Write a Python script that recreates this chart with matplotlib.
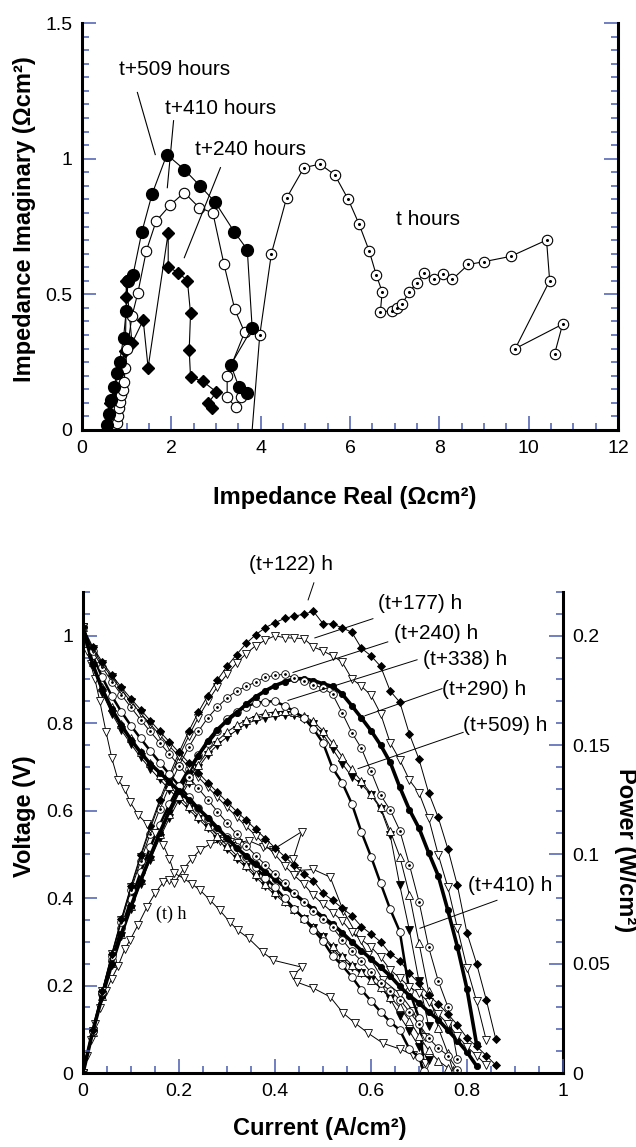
import matplotlib
matplotlib.use("Agg")
import matplotlib.pyplot as plt
from matplotlib.ticker import MultipleLocator, FuncFormatter
from matplotlib import font_manager

# ---- impedance spectra (top panel) ----
real_t = [3.78, 3.98, 4.24, 4.58, 4.97, 5.33, 5.66, 5.96, 6.2, 6.43, 6.59, 6.72, 6.68, 6.94, 7.06,
          7.17, 7.33, 7.49, 7.66, 7.89, 8.09, 8.29, 8.65, 8.99, 9.6, 10.4, 10.47, 9.7, 10.76, 10.58]
imag_t = [-0.06, 0.35, 0.65, 0.855, 0.967, 0.98, 0.94, 0.85, 0.76, 0.66, 0.57, 0.51, 0.435, 0.44, 0.45,
          0.465, 0.51, 0.54, 0.58, 0.555, 0.575, 0.555, 0.61, 0.62, 0.64, 0.70, 0.55, 0.30, 0.39, 0.28]

real_240 = [0.58, 0.63, 0.74, 0.81, 0.97, 0.99, 0.99, 1.12, 1.37, 1.48, 1.93, 1.93, 2.16, 2.36, 2.43,
            2.40, 2.43, 2.70, 3.01, 2.83, 2.92]
imag_240 = [0.025, 0.10, 0.15, 0.21, 0.29, 0.49, 0.55, 0.32, 0.405, 0.23, 0.727, 0.60, 0.58, 0.55, 0.43,
            0.295, 0.195, 0.18, 0.14, 0.10, 0.08]

real_410 = [0.78, 0.80, 0.82, 0.85, 0.88, 0.91, 0.94, 0.97, 1.01, 1.12, 1.25, 1.44, 1.66, 1.98, 2.29,
            2.62, 2.93, 3.18, 3.42, 3.64, 3.25, 3.25, 3.44, 3.55]
imag_410 = [0.025, 0.05, 0.08, 0.105, 0.13, 0.148, 0.178, 0.228, 0.298, 0.42, 0.505, 0.66, 0.77, 0.83, 0.875,
            0.82, 0.80, 0.61, 0.445, 0.36, 0.20, 0.12, 0.085, 0.12]

real_509 = [0.56, 0.60, 0.66, 0.72, 0.78, 0.84, 0.93, 0.99, 1.03, 1.14, 1.34, 1.57, 1.90, 2.29, 2.64,
            2.98, 3.41, 3.70, 3.81, 3.33, 3.51, 3.70]
imag_509 = [0.02, 0.06, 0.11, 0.16, 0.21, 0.25, 0.34, 0.44, 0.55, 0.57, 0.73, 0.87, 1.015, 0.96, 0.90,
            0.84, 0.73, 0.665, 0.375, 0.24, 0.16, 0.135]

# ---- polarisation / power curves (bottom panel) ----
cur_t = [0, 0.008, 0.016, 0.025, 0.035, 0.048, 0.06, 0.073, 0.087, 0.098, 0.115, 0.133, 0.15, 0.167,
         0.18, 0.19, 0.21, 0.227, 0.244, 0.265, 0.285, 0.306, 0.323, 0.345, 0.375, 0.396, 0.456, 0.438,
         0.445, 0.48, 0.515, 0.542, 0.567, 0.594, 0.625, 0.66, 0.688, 0.713]
volt_t = [1.02, 0.966, 0.935, 0.90, 0.85, 0.78, 0.72, 0.67, 0.65, 0.62, 0.59, 0.57, 0.548, 0.522,
          0.49, 0.457, 0.445, 0.432, 0.418, 0.395, 0.372, 0.345, 0.326, 0.308, 0.276, 0.258, 0.242, 0.224,
          0.208, 0.194, 0.174, 0.137, 0.114, 0.091, 0.068, 0.055, 0.041, 0.023]
pow_t = [0, 0.0077, 0.015, 0.0225, 0.0298, 0.0374, 0.0432, 0.0489, 0.0566, 0.0608, 0.0679, 0.0758, 0.0822,
         0.0872, 0.0882, 0.0868, 0.0935, 0.0981, 0.102, 0.1047, 0.106, 0.1056, 0.1053, 0.1063, 0.1035, 0.1022,
         0.1104, 0.0981, 0.0926, 0.0931, 0.0896, 0.0743, 0.0646, 0.0541, 0.0425, 0.0363, 0.0282, 0.0164]

cur_122 = [0.00, 0.02, 0.04, 0.06, 0.08, 0.10, 0.12, 0.14, 0.16, 0.18, 0.20, 0.22, 0.24, 0.26, 0.28,
           0.30, 0.32, 0.34, 0.36, 0.38, 0.40, 0.42, 0.44, 0.46, 0.48, 0.50, 0.52, 0.54, 0.56, 0.58,
           0.60, 0.62, 0.64, 0.66, 0.68, 0.70, 0.72, 0.74, 0.76, 0.78, 0.80, 0.82, 0.84, 0.86]
volt_122 = [1.02, 0.975, 0.94, 0.91, 0.882, 0.856, 0.831, 0.806, 0.781, 0.757, 0.733, 0.71, 0.687, 0.664,
            0.642, 0.62, 0.598, 0.578, 0.557, 0.536, 0.515, 0.495, 0.475, 0.456, 0.44, 0.411, 0.395, 0.377,
            0.36, 0.335, 0.318, 0.30, 0.273, 0.257, 0.228, 0.205, 0.178, 0.158, 0.135, 0.11, 0.08, 0.061,
            0.04, 0.018]
pow_122 = [0, 0.0195, 0.0376, 0.0546, 0.0706, 0.0856, 0.0997, 0.1128, 0.125, 0.1363, 0.1466, 0.1562,
           0.1649, 0.1726, 0.1798, 0.186, 0.1914, 0.1965, 0.2005, 0.2037, 0.206, 0.2079, 0.209, 0.2098,
           0.2112, 0.2055, 0.2054, 0.2036, 0.2016, 0.1943, 0.1908, 0.186, 0.1747, 0.1696, 0.155, 0.1435,
           0.1282, 0.1169, 0.1026, 0.0858, 0.064, 0.05, 0.0336, 0.0155]

cur_177 = [0.00, 0.02, 0.04, 0.06, 0.08, 0.10, 0.12, 0.14, 0.16, 0.18, 0.20, 0.22, 0.24, 0.26, 0.28,
           0.30, 0.32, 0.34, 0.36, 0.38, 0.40, 0.42, 0.44, 0.46, 0.48, 0.50, 0.52, 0.54, 0.56, 0.58,
           0.60, 0.62, 0.64, 0.66, 0.68, 0.70, 0.72, 0.74, 0.76, 0.78, 0.80, 0.82, 0.84]
volt_177 = [1.02, 0.97, 0.935, 0.905, 0.876, 0.849, 0.823, 0.798, 0.773, 0.748, 0.724, 0.70, 0.677, 0.654,
            0.631, 0.608, 0.586, 0.564, 0.543, 0.521, 0.50, 0.474, 0.452, 0.432, 0.406, 0.386, 0.367, 0.348,
            0.322, 0.305, 0.288, 0.265, 0.236, 0.217, 0.197, 0.183, 0.162, 0.135, 0.112, 0.085, 0.06, 0.04,
            0.018]
pow_177 = [0, 0.0194, 0.0374, 0.0543, 0.0701, 0.0849, 0.0988, 0.1117, 0.1237, 0.1346, 0.1448, 0.154,
           0.1625, 0.17, 0.1767, 0.1824, 0.1875, 0.1918, 0.1955, 0.198, 0.20, 0.1991, 0.1989, 0.1987,
           0.1949, 0.193, 0.1908, 0.1879, 0.1803, 0.1769, 0.1728, 0.1643, 0.151, 0.1432, 0.134, 0.1281,
           0.1166, 0.0999, 0.0851, 0.0663, 0.048, 0.0328, 0.0151]

cur_240 = [0.00, 0.02, 0.04, 0.06, 0.08, 0.10, 0.12, 0.14, 0.16, 0.18, 0.20, 0.22, 0.24, 0.26, 0.28,
           0.30, 0.32, 0.34, 0.36, 0.38, 0.40, 0.42, 0.44, 0.46, 0.48, 0.50, 0.52, 0.54, 0.56, 0.58,
           0.60, 0.62, 0.64, 0.66, 0.68, 0.70, 0.72, 0.74, 0.76, 0.78]
volt_240 = [1.02, 0.965, 0.928, 0.895, 0.865, 0.836, 0.808, 0.781, 0.755, 0.729, 0.703, 0.677, 0.651, 0.625,
            0.598, 0.572, 0.546, 0.52, 0.497, 0.476, 0.455, 0.434, 0.411, 0.39, 0.37, 0.352, 0.333, 0.305,
            0.278, 0.256, 0.23, 0.205, 0.188, 0.168, 0.14, 0.112, 0.08, 0.057, 0.04, 0.008]
pow_240 = [0, 0.0193, 0.0371, 0.0537, 0.0692, 0.0836, 0.097, 0.1093, 0.1208, 0.1312, 0.1406, 0.1489,
           0.1562, 0.1625, 0.1674, 0.1716, 0.1747, 0.1768, 0.1789, 0.1809, 0.182, 0.1823, 0.1808, 0.1794,
           0.1776, 0.176, 0.1732, 0.1647, 0.1557, 0.1485, 0.138, 0.1271, 0.1203, 0.1109, 0.0952, 0.0784,
           0.0576, 0.0422, 0.0304, 0.0062]

cur_290 = [0.00, 0.02, 0.04, 0.06, 0.08, 0.10, 0.12, 0.14, 0.16, 0.18, 0.20, 0.22, 0.24, 0.26, 0.28,
           0.30, 0.32, 0.34, 0.36, 0.38, 0.40, 0.42, 0.44, 0.46, 0.48, 0.50, 0.52, 0.54, 0.56, 0.58,
           0.60, 0.62, 0.64, 0.66, 0.68, 0.70, 0.72, 0.74, 0.76, 0.78, 0.80, 0.82]
volt_290 = [1.02, 0.935, 0.878, 0.832, 0.795, 0.762, 0.733, 0.707, 0.687, 0.666, 0.645, 0.625, 0.605, 0.584,
            0.561, 0.537, 0.515, 0.496, 0.478, 0.46, 0.443, 0.426, 0.41, 0.392, 0.374, 0.356, 0.34, 0.321,
            0.30, 0.28, 0.261, 0.242, 0.222, 0.198, 0.177, 0.16, 0.14, 0.122, 0.098, 0.074, 0.048, 0.016]
pow_290 = [0, 0.0187, 0.0351, 0.0499, 0.0636, 0.0762, 0.088, 0.099, 0.1099, 0.1199, 0.129, 0.1375,
           0.1452, 0.1518, 0.1571, 0.1611, 0.1648, 0.1686, 0.1721, 0.1748, 0.1772, 0.1789, 0.1804, 0.1803,
           0.1795, 0.178, 0.1768, 0.1733, 0.168, 0.1624, 0.1566, 0.15, 0.1421, 0.1307, 0.1204, 0.112,
           0.1008, 0.0903, 0.0745, 0.0577, 0.0384, 0.0131]

cur_338 = [0.00, 0.02, 0.04, 0.06, 0.08, 0.10, 0.12, 0.14, 0.16, 0.18, 0.20, 0.22, 0.24, 0.26, 0.28,
           0.30, 0.32, 0.34, 0.36, 0.38, 0.40, 0.42, 0.44, 0.46, 0.48, 0.50, 0.52, 0.54, 0.56, 0.58,
           0.60, 0.62, 0.64, 0.66, 0.68, 0.70, 0.71]
volt_338 = [1.02, 0.955, 0.905, 0.862, 0.826, 0.794, 0.765, 0.737, 0.71, 0.683, 0.657, 0.632, 0.606, 0.58,
            0.558, 0.54, 0.516, 0.493, 0.47, 0.447, 0.425, 0.40, 0.376, 0.353, 0.328, 0.302, 0.268, 0.246,
            0.22, 0.19, 0.165, 0.14, 0.117, 0.098, 0.055, 0.036, 0.005]
pow_338 = [0, 0.0191, 0.0362, 0.0517, 0.0661, 0.0794, 0.0918, 0.1032, 0.1136, 0.1229, 0.1314, 0.139,
           0.1454, 0.1508, 0.1562, 0.162, 0.1651, 0.1676, 0.1692, 0.1699, 0.17, 0.168, 0.1654, 0.1624,
           0.1574, 0.151, 0.1394, 0.1328, 0.1232, 0.1102, 0.099, 0.0868, 0.0749, 0.0647, 0.0374, 0.0252,
           0.0036]

cur_410 = [0.00, 0.02, 0.04, 0.06, 0.08, 0.10, 0.12, 0.14, 0.16, 0.18, 0.20, 0.22, 0.24, 0.26, 0.28,
           0.30, 0.32, 0.34, 0.36, 0.38, 0.40, 0.42, 0.44, 0.46, 0.48, 0.50, 0.52, 0.54, 0.56, 0.58,
           0.60, 0.62, 0.64, 0.66, 0.68, 0.70, 0.72, 0.74, 0.76, 0.77]
volt_410 = [1.02, 0.94, 0.882, 0.836, 0.798, 0.765, 0.735, 0.708, 0.682, 0.657, 0.633, 0.61, 0.588, 0.566,
            0.543, 0.52, 0.497, 0.475, 0.454, 0.433, 0.413, 0.394, 0.375, 0.355, 0.335, 0.313, 0.29, 0.268,
            0.248, 0.23, 0.213, 0.196, 0.173, 0.15, 0.12, 0.085, 0.052, 0.028, 0.012, 0.002]
pow_410 = [0, 0.0188, 0.0353, 0.0502, 0.0638, 0.0765, 0.0882, 0.0991, 0.1091, 0.1183, 0.1266, 0.1342,
           0.1411, 0.1472, 0.152, 0.156, 0.159, 0.1615, 0.1634, 0.1645, 0.1652, 0.1655, 0.165, 0.1633,
           0.1608, 0.1565, 0.1508, 0.1447, 0.1389, 0.1334, 0.1278, 0.1215, 0.1107, 0.099, 0.0816, 0.0595,
           0.0374, 0.0207, 0.0091, 0.0015]

cur_509 = [0.00, 0.02, 0.04, 0.06, 0.08, 0.10, 0.12, 0.14, 0.16, 0.18, 0.20, 0.22, 0.24, 0.26, 0.28,
           0.30, 0.32, 0.34, 0.36, 0.38, 0.40, 0.42, 0.44, 0.46, 0.48, 0.50, 0.52, 0.54, 0.56, 0.58,
           0.60, 0.62, 0.64, 0.66, 0.68, 0.70, 0.72]
volt_509 = [1.02, 0.93, 0.87, 0.822, 0.784, 0.752, 0.722, 0.696, 0.672, 0.648, 0.625, 0.603, 0.582, 0.56,
            0.536, 0.512, 0.49, 0.47, 0.448, 0.427, 0.408, 0.39, 0.372, 0.352, 0.332, 0.31, 0.285, 0.262,
            0.242, 0.228, 0.212, 0.195, 0.17, 0.13, 0.096, 0.06, 0.03]
pow_509 = [0, 0.0186, 0.0348, 0.0493, 0.0627, 0.0752, 0.0866, 0.0974, 0.1075, 0.1166, 0.125, 0.1327,
           0.1397, 0.1456, 0.1501, 0.1536, 0.1568, 0.1598, 0.1613, 0.1623, 0.1632, 0.1638, 0.1637, 0.1619,
           0.1594, 0.155, 0.1482, 0.1415, 0.1355, 0.1322, 0.1272, 0.1209, 0.1088, 0.0858, 0.0653, 0.042,
           0.0216]

# ---- fonts ----
avail = {f.name for f in font_manager.fontManager.ttflist}
if "Liberation Sans Narrow" in avail:
    narrow = "Liberation Sans Narrow"
    tick_fs, note_fs = 15, 16
else:
    narrow = "Liberation Sans"
    tick_fs, note_fs = 14, 15
plt.rcParams["font.family"] = "Liberation Sans"

tick_blue = "#4b5cb0"
fmt = FuncFormatter(lambda v, p: f"{v:g}")


def dress(ax, xmaj, xmin, ymaj, ymin):
    ax.xaxis.set_major_locator(MultipleLocator(xmaj))
    ax.xaxis.set_minor_locator(MultipleLocator(xmin))
    ax.yaxis.set_major_locator(MultipleLocator(ymaj))
    ax.yaxis.set_minor_locator(MultipleLocator(ymin))
    ax.xaxis.set_major_formatter(fmt)
    ax.yaxis.set_major_formatter(fmt)
    ax.tick_params(which="both", direction="in", color=tick_blue, width=1.1)
    ax.tick_params(which="major", length=10, labelsize=tick_fs, pad=7)
    ax.tick_params(which="minor", length=5)
    for lab in ax.get_xticklabels() + ax.get_yticklabels():
        lab.set_family(narrow)
    for s in ax.spines.values():
        s.set_linewidth(2.2)
    ax.spines["top"].set_visible(False)


fig = plt.figure(figsize=(6.36, 11.47), dpi=100)

# ================= top panel =================
ax = fig.add_axes([82 / 636, 1 - 430 / 1147, 536 / 636, 407 / 1147])
ax.set_xlim(0, 12)
ax.set_ylim(0, 1.5)

ax.plot(real_t, imag_t, "-o", color="black", lw=0.8, ms=7.5, mfc="white", mec="black", mew=0.8)
ax.plot(real_t, imag_t, "o", color="black", ms=1.2, ls="none")
ax.plot(real_240, imag_240, "-D", color="black", lw=0.8, ms=6, mfc="black", mec="black")
ax.plot(real_410, imag_410, "-o", color="black", lw=0.8, ms=7.5, mfc="white", mec="black", mew=0.8)
ax.plot(real_509, imag_509, "-o", color="black", lw=0.8, ms=8.5, mfc="black", mec="black")

dress(ax, 2, 0.5, 0.5, 0.05)
ax.yaxis.set_ticks_position("both")
ax.tick_params(labelright=False)

ax.text(2.07, 1.328, "t+509 hours", fontsize=note_fs, family=narrow, ha="center", va="center")
ax.plot([1.24, 1.64], [1.244, 1.015], color="black", lw=0.8)
ax.text(3.1, 1.184, "t+410 hours", fontsize=note_fs, family=narrow, ha="center", va="center")
ax.plot([2.05, 1.91], [1.14, 0.893], color="black", lw=0.8)
ax.text(3.78, 1.033, "t+240 hours", fontsize=note_fs, family=narrow, ha="center", va="center")
ax.plot([3.1, 2.29], [0.967, 0.635], color="black", lw=0.8)
ax.text(7.75, 0.775, "t hours", fontsize=note_fs, family=narrow, ha="center", va="center")

fig.text(345 / 636, 1 - 497 / 1147, "Impedance Real (Ωcm²)", fontsize=17, fontweight="bold",
         ha="center", va="center")
fig.text(25 / 636, 1 - 219 / 1147, "Impedance Imaginary (Ωcm²)", fontsize=17, fontweight="bold",
         ha="center", va="center", rotation=90)

# ================= bottom panel =================
bx = fig.add_axes([83 / 636, 1 - 1073 / 1147, 480 / 636, 481 / 1147])
px = bx.twinx()
bx.set_xlim(0, 1)
bx.set_ylim(0, 1.1)
px.set_ylim(0, 0.22)

series = [
    (cur_t, volt_t, pow_t, dict(marker="v", ms=5.5, mfc="white", lw=0.7), False),
    (cur_509, volt_509, pow_509, dict(marker="v", ms=5.5, mfc="black", lw=0.7), False),
    (cur_410, volt_410, pow_410, dict(marker="^", ms=5.5, mfc="white", lw=0.7), False),
    (cur_338, volt_338, pow_338, dict(marker="o", ms=5.5, mfc="white", lw=1.8), False),
    (cur_290, volt_290, pow_290, dict(marker="o", ms=4.5, mfc="black", lw=2.6), False),
    (cur_240, volt_240, pow_240, dict(marker="o", ms=5.5, mfc="white", lw=0.7), True),
    (cur_177, volt_177, pow_177, dict(marker="v", ms=5.5, mfc="white", lw=0.7), False),
    (cur_122, volt_122, pow_122, dict(marker="D", ms=4, mfc="black", lw=0.7), False),
]
for cur, volt, pw, st, dotted in series:
    bx.plot(cur, volt, color="black", mec="black", mew=0.6, **st)
    px.plot(cur, pw, color="black", mec="black", mew=0.6, **st)
    if dotted:
        bx.plot(cur, volt, "o", color="black", ms=1, ls="none")
        px.plot(cur, pw, "o", color="black", ms=1, ls="none")

dress(bx, 0.2, 0.05, 0.2, 0.05)
dress(px, 0.2, 0.05, 0.05, 0.01)
bx.spines["right"].set_visible(False)
px.spines["left"].set_visible(False)
px.spines["bottom"].set_visible(False)

notes = [
    ("(t+122) h", 0.433, 1.164, [0.481, 0.469], [1.121, 1.082]),
    ("(t+177) h", 0.702, 1.073, [0.604, 0.483], [1.039, 0.995]),
    ("(t+240) h", 0.735, 1.005, [0.635, 0.4375], [0.986, 0.916]),
    ("(t+338) h", 0.796, 0.945, [0.696, 0.427], [0.945, 0.852]),
    ("(t+290) h", 0.835, 0.877, [0.748, 0.5875], [0.879, 0.817]),
    ("(t+509) h", 0.879, 0.795, [0.792, 0.573], [0.779, 0.696]),
    ("(t+410) h", 0.89, 0.429, [0.8625, 0.702], [0.395, 0.331]),
]
for label, tx, ty, lx, ly in notes:
    bx.text(tx, ty, label, fontsize=note_fs, family=narrow, ha="center", va="center", zorder=5)
    bx.plot(lx, ly, color="black", lw=0.7, clip_on=False, zorder=5)
bx.text(0.183, 0.363, "(t) h", fontsize=13, family="Liberation Serif", ha="center", va="center")
bx.set_zorder(px.get_zorder() + 1)
bx.patch.set_visible(False)

fig.text(320 / 636, 1 - 1129 / 1147, "Current (A/cm²)", fontsize=17, fontweight="bold",
         ha="center", va="center")
fig.text(25 / 636, 1 - 816 / 1147, "Voltage (V)", fontsize=17, fontweight="bold",
         ha="center", va="center", rotation=90)
fig.text(625 / 636, 1 - 850 / 1147, "Power (W/cm²)", fontsize=17, fontweight="bold",
         ha="center", va="center", rotation=270)

fig.savefig("out.png", dpi=100)
